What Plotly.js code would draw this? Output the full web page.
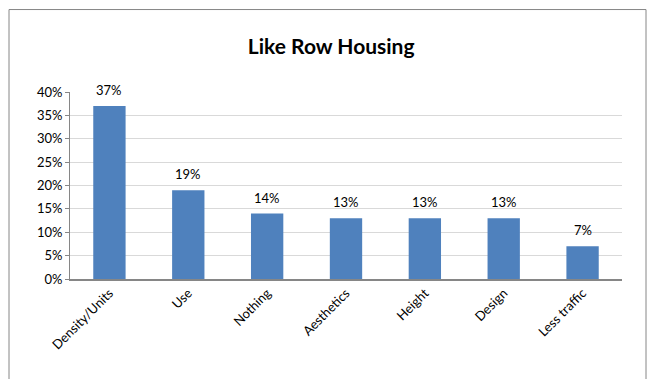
<!DOCTYPE html>
<html>
<head>
<meta charset="utf-8">
<script src="https://cdn.plot.ly/plotly-3.0.1.min.js"></script>
<style>html,body{margin:0;padding:0;background:#fff;}#chart{width:652px;height:379px;}</style>
</head>
<body>
<div id="chart"></div>
<script>
var categories = ["Density/Units", "Use", "Nothing", "Aesthetics", "Height", "Design", "Less traffic"];
var shares = [0.37, 0.19, 0.14, 0.13, 0.13, 0.13, 0.07];
var labels = shares.map(function(v){ return Math.round(v*100) + "%"; });
var titleText = "Like Row Housing";

var FONT = "Lato, 'Open Sans', sans-serif";

var trace = {
  type: "bar",
  x: categories,
  y: shares,
  marker: {color: "#4F81BD"},
  hoverinfo: "none"
};

var annotations = categories.map(function(c, i){
  return {x: c, y: shares[i], xref: "x", yref: "y", text: labels[i], showarrow: false,
          yanchor: "bottom", yshift: 6, font: {family: FONT, size: 13, color: "#000"}};
});

var layout = {
  width: 652, height: 379,
  margin: {l: 70, r: 30, t: 92, b: 100},
  paper_bgcolor: "#fff", plot_bgcolor: "#fff",
  bargap: 0.59,
  showlegend: false,
  font: {family: FONT, size: 13, color: "#000"},
  title: {text: "<b>" + titleText + "</b>", font: {family: FONT, size: 21, color: "#000"},
          x: 0.508, xanchor: "center", xref: "container", y: 0.876, yref: "container", yanchor: "middle"},
  xaxis: {
    tickangle: -45, showline: true, linecolor: "#868686", linewidth: 1.5,
    ticks: "", showgrid: false, tickfont: {family: FONT, size: 13, color: "#000"}
  },
  yaxis: {
    range: [0, 0.4], dtick: 0.05, tickformat: ".0%",
    showline: true, linecolor: "#868686", linewidth: 1,
    ticks: "outside", ticklen: 4, tickcolor: "#868686",
    gridcolor: "#d9d9d9", gridwidth: 1, zeroline: false,
    tickfont: {family: FONT, size: 13, color: "#000"}
  },
  annotations: annotations,
  shapes: [{
    type: "rect", xref: "paper", yref: "paper",
    x0: -0.1105, x1: 1.0435, y0: -0.7, y1: 1.441,
    line: {color: "#868686", width: 1}, fillcolor: "rgba(0,0,0,0)", layer: "below"
  }]
};

Plotly.newPlot("chart", [trace], layout, {displayModeBar: false, staticPlot: true});
</script>
</body>
</html>
